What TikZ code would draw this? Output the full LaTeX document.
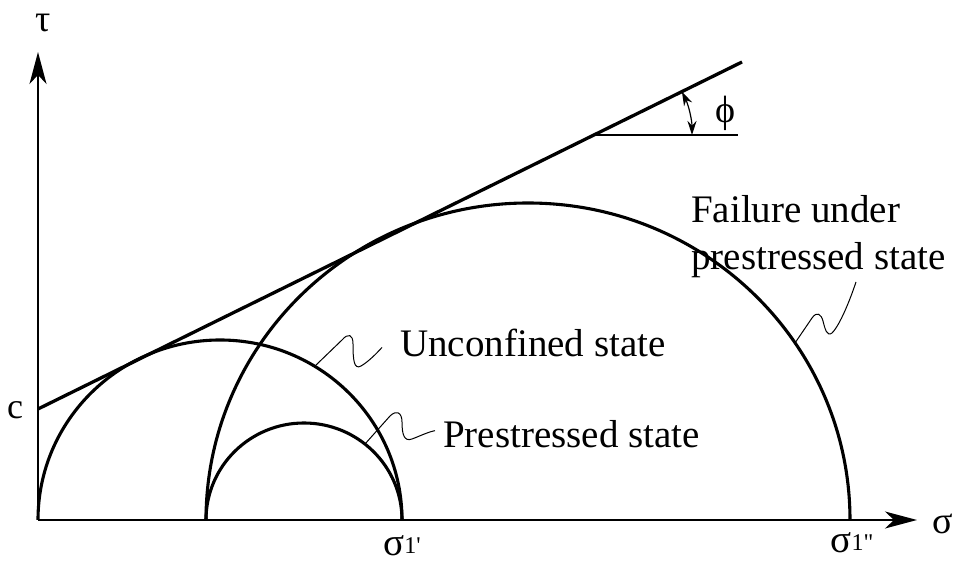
\documentclass[tikz,border=0pt]{standalone}
\usepackage{fontspec}
\setmainfont{Liberation Serif}
\usetikzlibrary{arrows.meta}
\tikzset{
    axis/.style={line width=1.4pt, -{Stealth[length=32pt, width=17pt, inset=9pt]}},
    mohr/.style={line width=3.1pt},
    envelope/.style={line width=3.3pt},
    leader/.style={line width=1pt},
    lbl/.style={font=\fontsize{39}{47}\selectfont, inner sep=0pt},
    sym/.style={font=\fontsize{36}{43}\selectfont, inner sep=0pt},
    anglearrow/.style={line width=1.2pt, {Stealth[length=14pt, width=9pt]}-{Stealth[length=14pt, width=9pt]}}
}

\begin{document}
\begin{tikzpicture}[x=1pt, y=1pt]
    \useasboundingbox (-38,-42) rectangle (916,520);
    \coordinate (O) at (0,0);
    \coordinate (s3) at (168,0);
    \coordinate (xend) at (879,0);
    \coordinate (yend) at (0,468);
    \coordinate (c0) at (0,111);
    \coordinate (top) at (704,458);
    \coordinate (h0) at (556,385);
    \coordinate (h1) at (700,385);

    % axes
    \draw [axis] (O) -- (xend);
    \draw [axis] (O) -- (yend);
    \node (tau) [sym, font=\fontsize{38}{43}\selectfont] at (5,497) {τ};
    \node (sig) [sym, font=\fontsize{38}{43}\selectfont] at (905,-4) {σ};
    \node (coh) [sym] at (-23,110) {c};
    \node (s1a) [sym, font=\fontsize{39}{43}\selectfont, anchor=base] at (364,-36) {σ\raisebox{2pt}{\fontsize{24}{26}\selectfont 1\textquotesingle}};
    \node (s1b) [sym, font=\fontsize{39}{43}\selectfont, anchor=base] at (814,-33) {σ\raisebox{2pt}{\fontsize{24}{26}\selectfont 1\textquotedbl}};

    % Mohr circles
    \draw [mohr] (O) arc[start angle=180, end angle=0, x radius=182pt, y radius=180pt];
    \draw [mohr] (s3) arc[start angle=180, end angle=0, x radius=98pt, y radius=97pt];
    \draw [mohr] (s3) arc[start angle=180, end angle=0, x radius=322pt, y radius=317pt];

    % failure envelope
    \draw [envelope] (c0) -- (top);
    \draw [line width=1.4pt] (h0) -- (h1);
    \draw [anglearrow] ([xshift=98pt]h0) arc[start angle=0, end angle=26.2, radius=98pt];
    \node (phi) [sym, font=\fontsize{38}{43}\selectfont] at (687,407) {ϕ};

    % labels
    \node (unconf) [lbl, anchor=base west] at (362,163) {Unconfined state};
    \node (prest) [lbl, anchor=base west] at (405,72) {Prestressed state};
    \node (fail) [lbl, anchor=west, align=left] at (653,283) {Failure under\\prestressed state};
    \coordinate (u0) at (277,154);
    \coordinate (p0) at (327,76);
    \coordinate (f0) at (757,177);
    \coordinate (f1) at (818,238);
    \draw [leader] (u0) -- (304,180) .. controls (310,187) and (315,186) .. (315,176)
        .. controls (315,160) and (316,150) .. (323,154)
        .. controls (330,158) and (338,166) .. ([xshift=-18pt, yshift=-4pt]unconf.west);
    \draw [leader] (p0) -- (352,104) .. controls (358,110) and (364,108) .. (364,98)
        .. controls (364,86) and (366,78) .. (374,81)
        .. controls (382,84) and (390,88) .. ([xshift=-8pt, yshift=4pt]prest.west);
    \draw [leader] (f0) -- (774,202) .. controls (779,209) and (783,206) .. (785,199)
        .. controls (787,191) and (789,183) .. (794,187)
        .. controls (802,195) and (812,220) .. (f1);
\end{tikzpicture}
\end{document}
